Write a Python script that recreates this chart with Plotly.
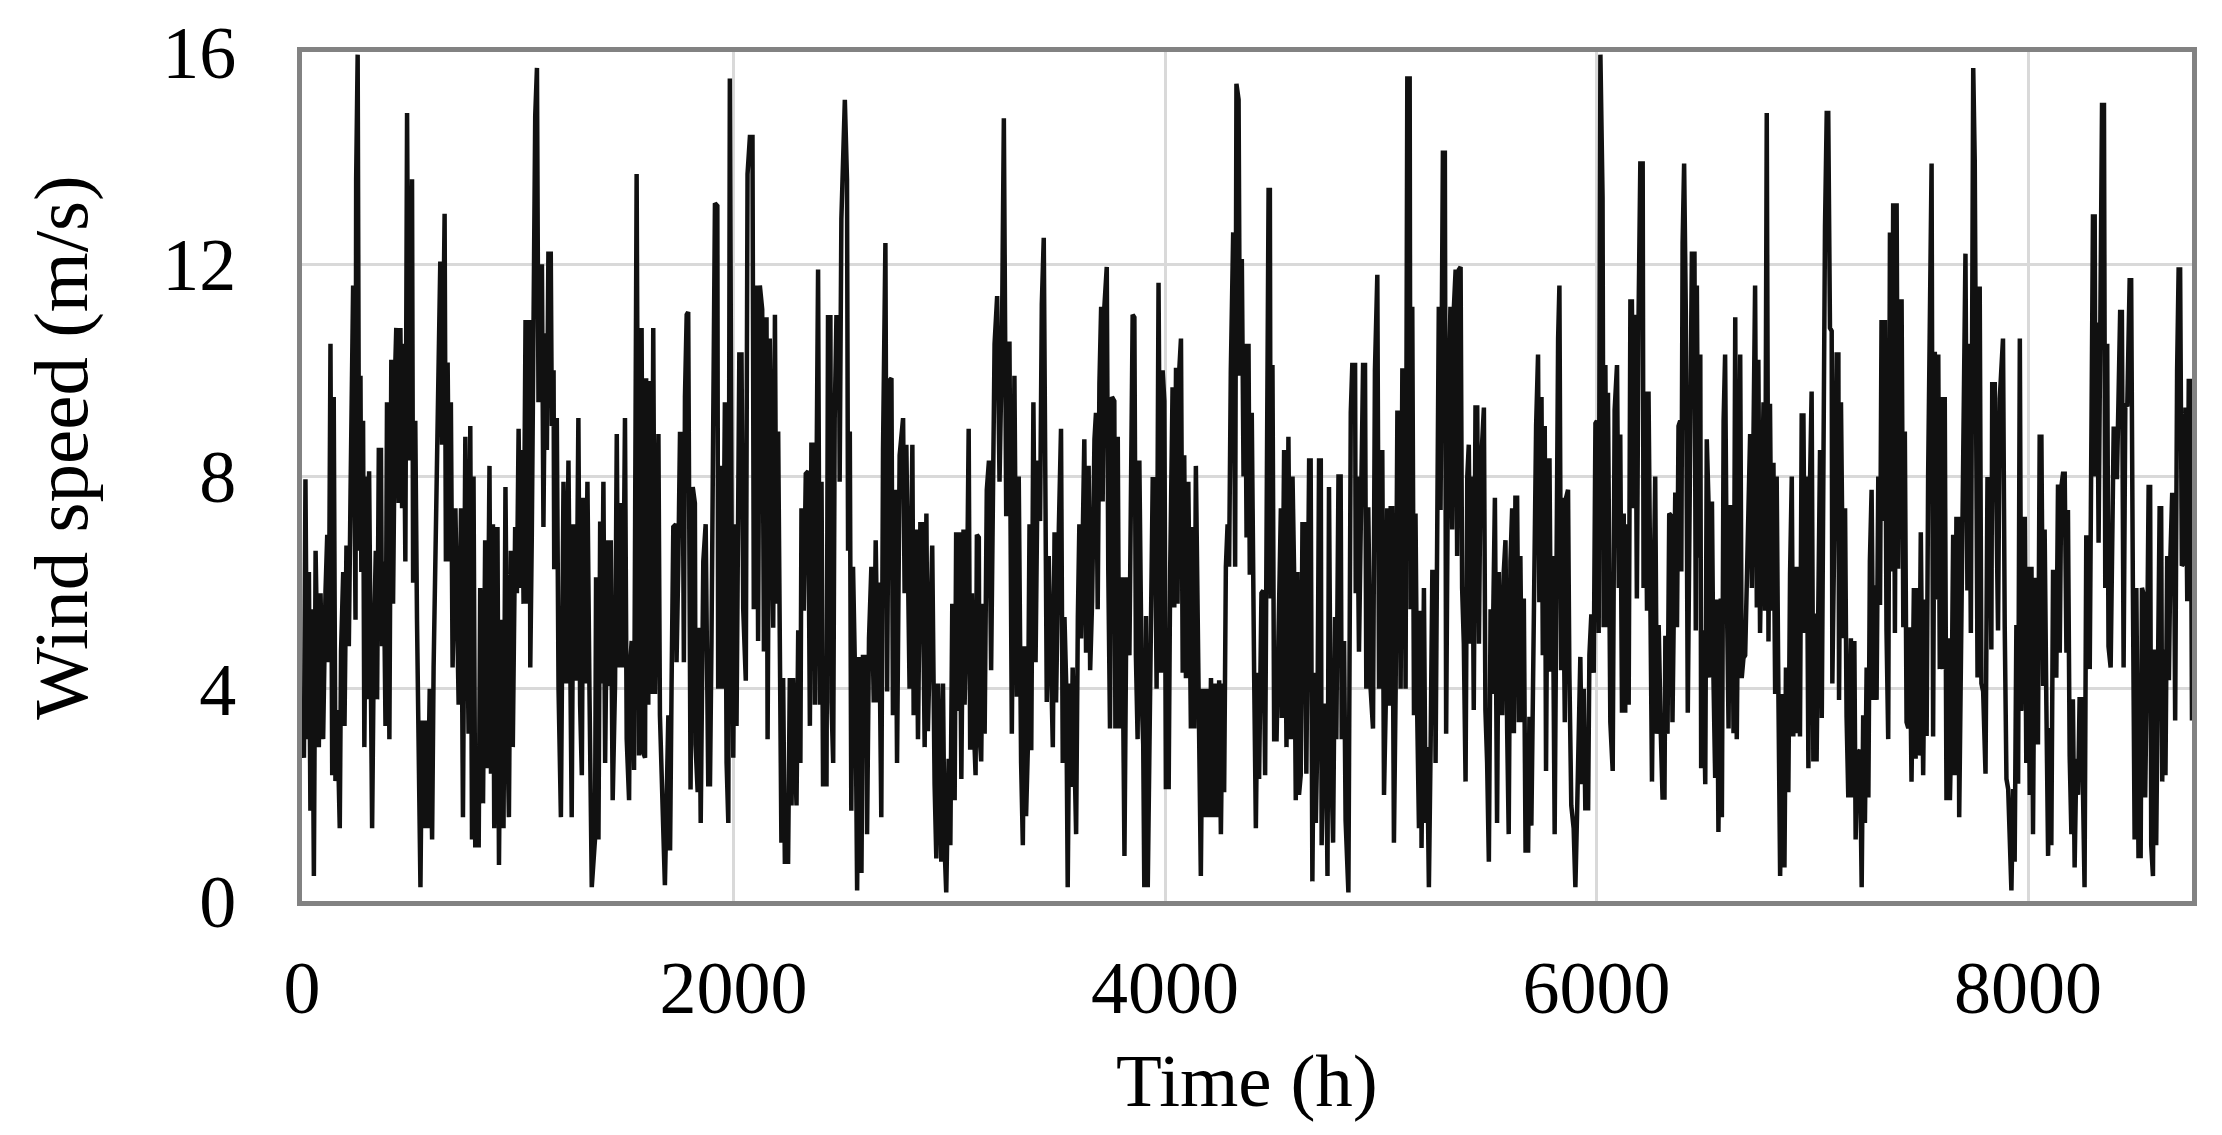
import plotly.graph_objects as go

# ---- data (hour, wind speed m/s), in 8 consecutive spans ----
time_s1 = [0, 9, 16, 24, 32, 39, 47, 55, 63, 78, 86, 98, 109, 117, 124, 132, 140, 147, 155, 163,
           175, 181, 191, 197, 206, 217, 225, 232, 237, 248, 251, 258, 265, 271, 275, 283, 289, 299, 305, 311,
           317, 325, 333, 342, 348, 356, 366, 371, 379, 387, 394, 405, 414, 422, 433, 437, 448, 456, 464, 471,
           479, 487, 495, 510, 515, 525, 533, 549, 556, 564, 576, 582, 592, 603, 610, 620, 626, 633, 641, 649,
           657, 661, 667, 675, 683, 690, 698, 711, 726, 737, 746, 757, 772, 780, 788, 795, 803, 819, 826, 839,
           849, 857, 869, 876, 885, 891, 906, 913, 919, 928, 934, 943, 953, 959, 968, 977, 988, 996, 1004, 1011,
           1019, 1027, 1036, 1045, 1055, 1058, 1065, 1081, 1089, 1096]
wind_s1 = [3.0, 2.7, 7.95, 3.05, 6.2, 1.7, 5.5, 0.47, 6.6, 2.9, 5.8, 3.05, 5.85, 6.9, 4.5, 10.5, 2.37, 9.5, 2.26, 3.6,
           1.37, 4.7, 6.2, 3.3, 6.7, 4.8, 7.7, 9.6, 11.6, 5.3, 13.6, 15.95, 6.6, 9.9, 6.2, 9.05, 2.9, 8.0, 3.8, 8.1,
           5.8, 1.37, 4.8, 6.6, 3.8, 8.5, 8.5, 4.8, 6.4, 3.3, 9.4, 3.05, 10.2, 5.6, 10.2, 10.8, 7.5, 10.8, 7.4, 10.5,
           6.4, 14.85, 8.3, 13.6, 6.0, 9.05, 5.3, 0.26, 3.4, 1.37, 3.4, 1.37, 4.0, 1.16, 4.4, 6.6, 8.5, 9.85, 12.05, 8.6,
           12.1, 12.95, 6.4, 10.15, 6.4, 9.4, 4.4, 7.4, 3.7, 7.4, 1.58, 8.75, 3.15, 8.95, 1.16, 8.0, 1.05, 1.05, 5.9, 1.84,
           6.8, 2.5, 8.2, 2.4, 7.1, 1.37, 7.05, 0.68, 3.9, 5.3, 1.37, 7.8, 2.9, 1.58, 6.6, 2.9, 7.05, 5.8, 8.9, 5.9,
           8.5, 5.6, 10.95, 5.6, 10.95, 4.4, 6.85, 14.8, 15.7, 9.4]

time_s2 = [1112, 1119, 1127, 1135, 1142, 1153, 1158, 1166, 1169, 1181, 1189, 1200, 1212, 1224, 1235, 1243, 1250, 1258, 1271, 1281,
           1289, 1297, 1304, 1312, 1323, 1332, 1343, 1358, 1363, 1374, 1382, 1389, 1397, 1405, 1416, 1423, 1431, 1440, 1451, 1459,
           1466, 1474, 1487, 1497, 1505, 1516, 1520, 1528, 1539, 1551, 1562, 1574, 1582, 1590, 1595, 1605, 1613, 1621, 1628, 1636,
           1652, 1659, 1675, 1682, 1698, 1706, 1713, 1721, 1733, 1736, 1744, 1752, 1764, 1770, 1775, 1783, 1790, 1795, 1801, 1811,
           1821, 1824, 1834, 1840, 1848, 1860, 1871, 1883, 1891, 1898, 1906, 1914, 1925, 1929, 1940, 1949, 1960, 1968, 1976, 1983,
           1991, 1999, 2006, 2014, 2027, 2037, 2045, 2057, 2065, 2076, 2088, 2094, 2107, 2114, 2122, 2133, 2141, 2153, 2158, 2168,
           2178]
wind_s2 = [12.0, 7.05, 10.7, 8.5, 12.2, 12.2, 8.95, 10.0, 6.25, 9.1, 4.0, 1.58, 7.9, 4.1, 8.3, 4.95, 1.58, 7.1, 4.15, 9.1,
           3.7, 2.37, 7.6, 4.1, 7.9, 4.1, 0.26, 1.16, 6.1, 1.16, 7.15, 4.1, 7.9, 2.6, 6.8, 4.05, 6.8, 1.9, 4.1, 8.8,
           4.4, 7.5, 4.4, 9.1, 3.05, 1.9, 4.4, 4.9, 2.47, 13.7, 2.74, 10.8, 2.79, 2.7, 9.85, 3.7, 9.8, 3.9, 10.8, 3.9,
           8.8, 3.5, 0.9, 0.3, 3.5, 0.95, 4.1, 7.05, 7.1, 4.5, 6.3, 8.8, 8.8, 4.5, 9.5, 11.05, 11.1, 6.3, 2.1, 7.8,
           7.5, 2.95, 2.05, 5.15, 1.47, 6.4, 7.1, 2.2, 2.2, 4.9, 11.0, 13.15, 13.1, 4.0, 8.2, 4.0, 9.4, 2.6, 1.47, 15.5,
           7.15, 2.7, 7.1, 3.3, 10.3, 10.3, 5.5, 4.15, 13.7, 14.4, 14.4, 5.5, 11.6, 4.9, 11.6, 11.15, 4.7, 11.0, 3.05, 10.6,
           7.15]

time_s3 = [2184, 2192, 2199, 2207, 2215, 2222, 2230, 2238, 2253, 2261, 2269, 2276, 2292, 2300, 2310, 2315, 2326, 2335, 2346, 2354,
           2361, 2372, 2377, 2384, 2392, 2400, 2408, 2415, 2431, 2438, 2449, 2454, 2462, 2469, 2477, 2489, 2492, 2500, 2516, 2526,
           2531, 2539, 2546, 2554, 2566, 2573, 2582, 2593, 2600, 2616, 2619, 2628, 2639, 2650, 2659, 2670, 2674, 2685, 2693, 2704,
           2712, 2721, 2732, 2739, 2750, 2758, 2770, 2786, 2793, 2801, 2816, 2829, 2835, 2847, 2855, 2866, 2875, 2886, 2894, 2901,
           2921, 2932, 2940, 2948, 2963, 2971, 2978, 2986, 2997, 3005, 3014, 3025, 3032, 3040, 3048, 3056, 3066, 3071, 3082, 3090,
           3097, 3105, 3113, 3122, 3128, 3137, 3140, 3148, 3156, 3164, 3174, 3184, 3194, 3210, 3222, 3233, 3244, 3253, 3264, 3272,
           3279, 3290, 3302, 3313, 3322]
wind_s3 = [5.15, 11.05, 5.6, 8.85, 2.95, 1.1, 4.2, 0.74, 0.74, 4.2, 1.8, 4.2, 1.8, 5.1, 2.6, 7.4, 5.47, 8.05, 8.1, 3.3,
           8.6, 8.6, 3.7, 7.9, 11.9, 3.7, 7.9, 2.2, 2.2, 11.0, 11.0, 3.74, 2.6, 9.1, 11.0, 11.0, 7.9, 12.85, 15.1, 13.6,
           6.6, 8.85, 1.7, 6.3, 3.7, 0.2, 4.6, 0.53, 4.6, 4.6, 1.26, 4.95, 6.3, 3.74, 6.8, 3.74, 6.0, 1.58, 8.5, 12.4,
           3.95, 9.8, 9.85, 3.5, 7.75, 2.6, 8.4, 9.1, 5.8, 8.6, 4.0, 8.6, 3.5, 7.0, 3.05, 7.1, 7.1, 2.9, 7.3, 3.2,
           6.7, 2.2, 0.8, 4.1, 0.74, 4.1, 1.05, 0.16, 2.68, 1.05, 5.6, 1.9, 6.95, 3.58, 6.95, 2.3, 7.0, 3.7, 5.6, 8.9,
           2.85, 5.8, 3.4, 2.37, 6.9, 6.85, 3.15, 2.63, 5.6, 3.15, 7.75, 8.3, 4.35, 10.5, 11.4, 7.9, 10.5, 14.75, 7.25, 10.5,
           10.5, 3.15, 9.9, 3.85, 8.0]

time_s4 = [3333, 3341, 3349, 3356, 3364, 3372, 3380, 3390, 3400, 3410, 3421, 3429, 3438, 3446, 3452, 3461, 3472, 3480, 3488, 3495,
           3508, 3518, 3526, 3534, 3542, 3549, 3557, 3565, 3572, 3588, 3596, 3603, 3611, 3619, 3626, 3634, 3646, 3653, 3662, 3673,
           3680, 3688, 3696, 3704, 3711, 3719, 3730, 3737, 3745, 3754, 3765, 3770, 3781, 3788, 3801, 3812, 3822, 3835, 3842, 3850,
           3858, 3865, 3873, 3881, 3893, 3899, 3904, 3912, 3920, 3935, 3943, 3953, 3961, 3970, 3981, 3989, 3997, 4004, 4017, 4024,
           4035, 4043, 4051, 4058, 4066, 4074, 4082, 4089, 4097, 4108, 4120, 4128, 4136, 4143, 4159, 4166, 4174, 4186, 4193, 4205,
           4213, 4223, 4233, 4244, 4251, 4259, 4267, 4274, 4282, 4290, 4297, 4305, 4316, 4325, 4331, 4341, 4347, 4356, 4364, 4372,
           4378, 4387, 4393, 4402, 4413, 4421, 4429]
wind_s4 = [2.6, 1.05, 4.8, 1.6, 2.84, 7.1, 2.84, 9.4, 4.5, 8.3, 7.16, 11.25, 12.5, 7.05, 3.75, 6.5, 3.74, 2.9, 6.95, 3.74,
           7.05, 8.9, 2.6, 5.35, 4.1, 0.26, 4.1, 2.15, 4.4, 1.26, 5.35, 7.1, 4.95, 7.68, 8.7, 4.68, 8.2, 4.35, 5.63, 8.7,
           9.2, 5.5, 9.75, 11.2, 7.53, 11.2, 11.95, 6.25, 3.25, 9.5, 9.42, 3.25, 8.75, 3.25, 6.1, 0.85, 6.1, 4.63, 7.58, 11.05,
           11.0, 4.63, 3.05, 8.3, 3.68, 2.95, 0.26, 5.37, 0.26, 4.5, 7.95, 7.95, 4.0, 11.65, 4.3, 10.0, 9.42, 2.15, 2.15, 6.25,
           9.68, 5.53, 10.05, 5.6, 10.0, 10.6, 4.3, 8.4, 4.2, 7.9, 3.25, 7.05, 3.25, 8.2, 1.37, 0.47, 4.0, 1.58, 4.0, 1.58,
           4.2, 1.58, 4.1, 1.58, 4.16, 1.26, 4.1, 2.05, 6.3, 7.1, 6.3, 10.0, 12.6, 6.3, 15.4, 15.1, 9.9, 12.1, 8.0, 10.5,
           6.85, 10.5, 6.15, 9.2, 4.3, 1.37, 4.3]

time_s5 = [4436, 4447, 4455, 4464, 4480, 4486, 4490, 4498, 4506, 4517, 4526, 4537, 4541, 4552, 4563, 4572, 4583, 4591, 4598, 4606,
           4614, 4621, 4629, 4637, 4645, 4655, 4668, 4675, 4683, 4691, 4699, 4706, 4714, 4722, 4726, 4737, 4745, 4753, 4760, 4768,
           4779, 4788, 4794, 4804, 4814, 4819, 4830, 4837, 4850, 4856, 4861, 4868, 4881, 4884, 4891, 4899, 4910, 4918, 4927, 4933,
           4942, 4953, 4964, 4973, 4984, 4992, 4999, 5007, 5015, 5023, 5030, 5038, 5046, 5053, 5061, 5069, 5077, 5084, 5092, 5100,
           5107, 5115, 5123, 5134, 5138, 5146, 5154, 5161, 5169, 5177, 5185, 5189, 5200, 5208, 5215, 5223, 5231, 5239, 5249, 5254,
           5262, 5269, 5277, 5282, 5288, 5297, 5303, 5313, 5323, 5331, 5339, 5347, 5354, 5362, 5370, 5377, 5385, 5393, 5401, 5408,
           5416, 5424, 5431, 5439, 5447, 5455, 5462, 5478, 5485, 5493, 5501, 5509, 5516, 5529, 5539]
wind_s5 = [2.3, 5.8, 5.85, 2.37, 13.4, 13.4, 5.7, 10.1, 3.05, 3.05, 5.53, 7.4, 3.45, 8.5, 2.9, 8.75, 3.05, 8.0, 6.3, 1.9,
           6.2, 2.0, 2.37, 7.1, 7.1, 2.4, 8.3, 8.3, 0.37, 4.3, 1.47, 3.05, 8.3, 8.3, 1.05, 3.68, 3.68, 0.47, 7.8, 3.05,
           1.1, 5.35, 3.05, 8.0, 8.0, 3.05, 4.9, 1.52, 0.16, 5.9, 9.2, 10.1, 10.1, 5.8, 8.0, 4.7, 8.74, 10.1, 10.1, 4.0,
           7.42, 4.0, 3.25, 10.0, 11.8, 4.0, 6.9, 8.5, 2.0, 3.68, 7.4, 3.68, 7.4, 7.4, 1.1, 4.0, 9.2, 9.2, 4.0, 10.0,
           10.0, 4.0, 15.5, 15.5, 5.5, 11.2, 3.5, 7.3, 3.5, 1.37, 5.47, 1.0, 5.9, 1.47, 2.9, 0.26, 2.9, 6.2, 6.2, 2.6,
           7.15, 11.2, 7.37, 12.1, 14.1, 14.1, 3.15, 9.3, 11.2, 7.0, 11.2, 11.9, 6.5, 11.9, 11.95, 5.9, 4.84, 2.25, 8.0, 8.6,
           4.85, 8.0, 3.6, 9.3, 9.3, 4.85, 8.0, 9.3, 3.6, 2.6, 0.74, 5.5, 3.9, 7.6, 1.47]

time_s6 = [5547, 5563, 5570, 5578, 5586, 5593, 5601, 5609, 5617, 5624, 5632, 5640, 5647, 5655, 5663, 5671, 5683, 5689, 5698, 5706,
           5712, 5720, 5729, 5735, 5745, 5751, 5760, 5766, 5775, 5782, 5789, 5797, 5806, 5814, 5822, 5828, 5836, 5843, 5853, 5859,
           5868, 5874, 5883, 5894, 5902, 5910, 5917, 5925, 5933, 5941, 5948, 5961, 5967, 5976, 5987, 5995, 6002, 6010, 6018, 6028,
           6033, 6041, 6049, 6053, 6064, 6075, 6084, 6095, 6103, 6110, 6118, 6126, 6133, 6136, 6149, 6157, 6164, 6172, 6180, 6187,
           6195, 6203, 6214, 6218, 6226, 6234, 6241, 6249, 6257, 6265, 6272, 6280, 6288, 6298, 6306, 6315, 6319, 6329, 6337, 6346,
           6352, 6365, 6373, 6380, 6388, 6393, 6399, 6406, 6414, 6423, 6434, 6442, 6454, 6460, 6465, 6473, 6481, 6485, 6493, 6504,
           6511, 6519, 6527, 6535, 6542, 6550, 6558, 6565, 6576, 6581, 6589, 6596, 6604, 6612, 6619, 6627, 6635, 6643, 6650]
wind_s6 = [6.2, 3.5, 6.2, 6.8, 3.16, 1.26, 6.4, 7.4, 3.16, 7.6, 7.6, 3.37, 6.5, 3.37, 5.7, 0.95, 0.95, 3.47, 1.42, 3.84,
           7.2, 8.95, 10.3, 5.63, 9.5, 4.63, 8.95, 2.45, 8.3, 8.3, 4.32, 6.5, 1.26, 6.9, 10.6, 11.6, 4.35, 7.6, 3.37, 7.6,
           7.75, 4.35, 1.8, 1.37, 0.26, 1.68, 3.26, 4.6, 2.2, 4.0, 1.75, 1.75, 4.63, 5.4, 4.3, 9.0, 9.05, 5.05, 15.95, 13.26,
           5.16, 10.1, 5.16, 9.58, 3.37, 2.45, 9.25, 10.1, 5.9, 8.79, 3.55, 7.3, 3.55, 7.1, 3.7, 11.3, 11.3, 7.4, 11.05, 5.7,
           11.05, 13.9, 13.9, 5.9, 9.6, 5.47, 9.6, 4.42, 2.25, 5.9, 8.0, 3.15, 5.2, 3.15, 1.95, 1.95, 5.0, 3.15, 7.3, 7.26,
           3.37, 7.7, 5.16, 8.95, 9.05, 6.21, 12.4, 13.9, 11.05, 3.55, 8.0, 12.2, 12.2, 5.1, 11.6, 6.47, 10.3, 2.5, 5.1, 2.2,
           8.7, 7.53, 4.21, 7.53, 4.21, 2.32, 5.68, 1.3, 5.7, 1.58, 9.05, 10.3, 5.8, 3.25, 7.42, 7.42, 3.16, 11.0, 3.05]

time_s7 = [6666, 6673, 6681, 6689, 6704, 6712, 6720, 6727, 6735, 6743, 6750, 6758, 6766, 6774, 6781, 6789, 6797, 6804, 6812, 6820,
           6828, 6835, 6843, 6851, 6862, 6871, 6878, 6889, 6897, 6905, 6912, 6920, 6928, 6936, 6943, 6951, 6959, 6966, 6974, 6982,
           6990, 6997, 7005, 7013, 7020, 7028, 7036, 7044, 7051, 7059, 7067, 7074, 7082, 7090, 7093, 7105, 7113, 7121, 7124, 7133,
           7144, 7152, 7159, 7167, 7179, 7186, 7195, 7201, 7210, 7221, 7229, 7236, 7244, 7252, 7260, 7267, 7275, 7283, 7290, 7298,
           7306, 7314, 7321, 7329, 7337, 7344, 7352, 7360, 7368, 7375, 7383, 7391, 7398, 7406, 7414, 7422, 7429, 7437, 7445, 7452,
           7460, 7471, 7479, 7488, 7494, 7503, 7514, 7522, 7530, 7537, 7545, 7553, 7560, 7568, 7576, 7584, 7591, 7599, 7607, 7614,
           7622, 7630, 7638, 7645, 7653, 7661, 7668, 7676, 7681, 7689, 7696, 7704, 7710, 7719, 7726, 7735, 7746, 7753, 7761]
wind_s7 = [10.3, 4.2, 4.58, 4.63, 8.0, 8.8, 5.9, 9.8, 11.6, 5.53, 10.2, 5.05, 8.21, 9.4, 5.47, 14.85, 4.89, 9.37, 5.47, 8.26,
           3.9, 8.0, 3.9, 0.47, 3.9, 0.63, 4.4, 2.05, 6.15, 8.0, 3.1, 6.3, 3.16, 6.3, 3.1, 9.15, 9.15, 5.05, 8.0, 2.5,
           8.0, 9.6, 2.63, 5.42, 2.63, 5.42, 8.5, 3.45, 8.5, 12.7, 14.85, 14.85, 10.8, 10.74, 4.1, 7.42, 10.3, 10.3, 3.79, 9.4,
           4.95, 7.4, 3.47, 1.95, 4.95, 1.95, 4.9, 1.16, 2.79, 2.84, 0.26, 3.5, 1.47, 4.4, 1.95, 6.4, 7.75, 3.79, 5.95, 3.79,
           8.0, 5.58, 10.95, 7.16, 10.95, 5.11, 3.05, 12.6, 6.21, 13.15, 5.05, 13.15, 6.26, 11.3, 11.3, 5.16, 8.85, 3.37, 3.26, 5.16,
           2.25, 5.9, 2.68, 5.9, 2.74, 6.95, 2.37, 5.68, 3.11, 8.0, 11.5, 13.9, 3.1, 10.35, 5.68, 10.3, 4.37, 9.5, 4.37, 9.5,
           1.9, 4.95, 1.9, 3.37, 6.9, 2.37, 7.2, 7.2, 1.58, 4.95, 8.0, 10.3, 12.2, 5.85, 10.5, 5.05, 15.7, 13.95, 4.32]

time_s8 = [7766, 7776, 7784, 7792, 7803, 7812, 7823, 7830, 7834, 7846, 7854, 7861, 7869, 7877, 7884, 7892, 7900, 7908, 7915, 7923,
           7931, 7938, 7946, 7954, 7962, 7969, 7977, 7985, 7992, 8000, 8008, 8016, 8023, 8031, 8039, 8046, 8054, 8062, 8070, 8077,
           8085, 8093, 8100, 8108, 8116, 8124, 8131, 8139, 8147, 8154, 8162, 8170, 8178, 8185, 8193, 8201, 8208, 8216, 8224, 8232,
           8239, 8247, 8255, 8262, 8270, 8278, 8286, 8293, 8301, 8309, 8313, 8321, 8327, 8335, 8343, 8352, 8358, 8367, 8373, 8383,
           8389, 8397, 8404, 8412, 8420, 8427, 8435, 8443, 8451, 8460, 8471, 8478, 8486, 8494, 8502, 8512, 8522, 8528, 8535, 8543,
           8552, 8559, 8566, 8571, 8579, 8586, 8594, 8602, 8610, 8617, 8622, 8630, 8637, 8645, 8653, 8660, 8668, 8676, 8682, 8691,
           8698, 8705, 8713, 8722, 8730, 8738, 8745, 8753, 8760]
wind_s8 = [4.21, 11.58, 4.1, 3.95, 2.4, 7.95, 7.95, 4.74, 9.74, 9.74, 6.5, 5.1, 9.47, 10.05, 10.6, 5.16, 2.3, 2.11, 1.16, 0.2,
           2.11, 0.74, 5.2, 2.21, 10.6, 3.58, 7.2, 7.2, 2.6, 6.3, 2.0, 6.3, 1.26, 6.05, 6.05, 2.95, 8.75, 8.75, 4.05, 7.0,
           3.68, 0.85, 3.26, 1.05, 6.2, 6.2, 4.21, 7.85, 4.68, 7.79, 8.05, 8.05, 4.68, 7.37, 2.74, 1.26, 3.8, 0.63, 2.68, 2.0,
           3.8, 3.8, 2.0, 0.26, 6.85, 6.85, 4.37, 7.7, 12.9, 12.9, 8.0, 10.9, 6.75, 10.84, 15.0, 15.0, 5.9, 10.5, 4.8, 4.4,
           6.0, 8.9, 8.9, 7.95, 9.6, 11.1, 11.1, 4.4, 9.37, 9.32, 11.7, 11.7, 5.9, 1.16, 5.9, 0.85, 0.85, 5.9, 5.79, 1.95,
           4.74, 7.8, 7.8, 1.05, 0.47, 4.74, 1.05, 4.74, 7.4, 7.4, 2.25, 4.74, 2.37, 6.5, 4.16, 6.5, 7.65, 7.65, 3.4, 10.0,
           11.9, 11.9, 6.32, 6.37, 9.3, 5.65, 9.8, 9.8, 3.4]

x_ticks = [0, 2000, 4000, 6000, 8000]
y_ticks = [0, 4, 8, 12, 16]
x_title = "Time (h)"
y_title = "Wind speed (m/s)"

time_spans = [time_s1, time_s2, time_s3, time_s4, time_s5, time_s6, time_s7, time_s8]
wind_spans = [wind_s1, wind_s2, wind_s3, wind_s4, wind_s5, wind_s6, wind_s7, wind_s8]
hours, speeds = [], []
for i, (t, w) in enumerate(zip(time_spans, wind_spans)):
    assert len(t) == len(w), (i + 1, len(t), len(w))
    hours += t
    speeds += w

FONT = "Liberation Serif, Times New Roman, serif"

fig = go.Figure(go.Scatter(x=hours, y=speeds, mode="lines",
                           line=dict(color="#111111", width=4.5), hoverinfo="skip"))

axis_common = dict(showgrid=True, gridcolor="#d9d9d9", gridwidth=2.5, zeroline=False,
                   showline=True, mirror=True, linecolor="#828282", linewidth=5,
                   ticks="", tickfont=dict(family=FONT, size=74, color="#000000"))

fig.update_xaxes(range=[0, 8760], tickmode="array", tickvals=x_ticks, ticklabelstandoff=18, **axis_common)
fig.update_yaxes(range=[0, 16], tickmode="array", tickvals=y_ticks, ticklabelstandoff=46, **axis_common)

fig.update_layout(
    width=2222, height=1135,
    margin=dict(l=302, r=30, t=47, b=234),
    paper_bgcolor="white", plot_bgcolor="white",
    showlegend=False,
    annotations=[
        dict(text=x_title, xref="paper", yref="paper", x=0.5, y=-0.212,
             xanchor="center", yanchor="middle", showarrow=False,
             font=dict(family=FONT, size=75, color="#000000")),
        dict(text=y_title, xref="paper", yref="paper", x=-0.1275, y=0.534,
             xanchor="center", yanchor="middle", showarrow=False, textangle=-90,
             font=dict(family=FONT, size=77, color="#000000")),
    ],
)

fig.write_html("out.html", config={"displayModeBar": False},
               post_script="document.body.style.margin='0';")
